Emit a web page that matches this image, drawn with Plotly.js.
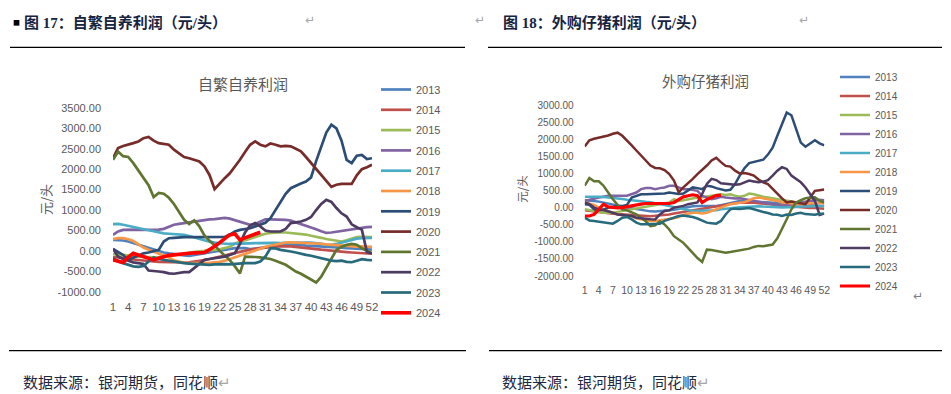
<!DOCTYPE html>
<html><head><meta charset="utf-8">
<script src="https://cdn.plot.ly/plotly-3.0.1.min.js"></script>
<style>html,body{margin:0;padding:0;background:#fff;}#chart{width:951px;height:394px;}</style>
</head><body><div id="chart"></div>
<script>
const years = ['2013','2014','2015','2016','2017','2018','2019','2020','2021','2022','2023','2024'];
const colors = ['#4F81BD','#C0504D','#9BBB59','#8064A2','#4BACC6','#F79646','#2C4D75','#772C2A','#5F7530','#4D3B62','#276A7C','#FF0000'];
const weeks = [1,2,3,4,5,6,7,8,9,10,11,12,13,14,15,16,17,18,19,20,21,22,23,24,25,26,27,28,29,30,31,32,33,34,35,36,37,38,39,40,41,42,43,44,45,46,47,48,49,50,51,52];
const xTickVals = [1,4,7,10,13,16,19,22,25,28,31,34,37,40,43,46,49,52];
const leftYTicks = [-1000,-500,0,500,1000,1500,2000,2500,3000,3500];
const rightYTicks = [-2000,-1500,-1000,-500,0,500,1000,1500,2000,2500,3000];

// 自繁自养利润
const L2013 = [270,270,255,230,190,150,105,65,25,0,-40,-60,-80,-100,-110,-120,-100,-75,-60,-40,-15,5,25,45,65,65,65,45,55,65,80,105,120,130,140,145,150,145,130,125,120,115,105,95,90,80,65,60,65,50,40,30];
const L2014 = [-150,-160,-170,-200,-215,-230,-240,-250,-260,-270,-275,-280,-285,-290,-285,-280,-265,-250,-225,-200,-175,-150,-115,-80,-50,-20,5,30,50,70,85,100,110,120,115,110,100,90,75,60,45,30,15,0,-10,-20,-30,-40,-45,-50,-60,-70];
const L2015 = [-80,-85,-100,-115,-140,-140,-150,-155,-160,-150,-140,-120,-100,-90,-80,-40,-20,-10,0,10,20,40,70,100,180,220,260,300,350,390,420,440,450,455,450,440,420,415,400,370,350,320,290,270,240,230,260,300,340,345,340,340];
const L2016 = [390,475,515,520,525,520,515,515,515,520,540,600,640,660,680,700,727,740,760,770,780,795,810,790,750,720,680,640,660,720,775,770,770,770,760,740,700,660,620,570,530,480,440,450,470,490,510,530,550,570,580,590];
const L2017 = [655,660,640,610,580,555,530,505,480,450,430,420,415,410,390,365,330,290,250,225,205,185,175,170,170,175,180,185,190,195,200,200,195,190,195,200,205,205,205,200,190,170,150,150,170,200,240,270,300,310,320,320];
const L2018 = [285,310,310,285,240,160,80,30,-15,-60,-100,-160,-230,-260,-290,-300,-305,-300,-300,-295,-285,-270,-240,-200,-160,-110,-70,-45,10,50,100,130,160,190,205,210,205,200,195,195,185,175,160,150,140,130,115,105,105,110,105,100];
const L2019 = [50,-30,-100,-220,-160,-100,-60,-40,0,25,228,310,320,335,335,335,335,335,335,335,335,335,340,400,473,515,530,555,600,650,690,800,1000,1200,1400,1535,1600,1650,1700,1800,2200,2550,2900,3090,3000,2700,2230,2150,2330,2350,2250,2270];
const L2020 = [2270,2520,2570,2600,2640,2680,2760,2790,2700,2640,2620,2600,2480,2390,2300,2270,2230,2190,2070,1860,1510,1650,1780,1900,2060,2230,2420,2600,2680,2600,2560,2630,2600,2560,2570,2560,2500,2440,2300,2150,2000,1850,1720,1570,1620,1640,1640,1640,1850,2000,2050,2110];
const L2021 = [2230,2430,2320,2300,2150,1960,1780,1610,1320,1420,1400,1300,1150,950,760,660,750,600,380,250,140,0,-120,-225,-380,-550,-140,-140,-150,-160,-180,-200,-240,-290,-340,-420,-505,-560,-630,-700,-775,-630,-420,-220,25,100,147,170,150,65,0,-57];
const L2022 = [50,-140,-200,-240,-280,-300,-320,-480,-500,-505,-520,-550,-560,-540,-520,-520,-420,-300,-220,-200,-180,-155,-140,-100,-57,173,450,620,680,600,500,475,470,475,540,680,700,720,760,830,1000,1150,1250,1200,1050,920,840,650,580,520,-30,-60];
const L2023 = [-180,-260,-300,-340,-380,-390,-370,-260,-160,-200,-220,-250,-270,-290,-300,-310,-320,-320,-330,-343,-330,-320,-325,-330,-320,-300,-300,-300,-300,-260,-140,65,60,25,10,-16,-40,-60,-98,-120,-150,-180,-200,-237,-250,-240,-270,-278,-240,-204,-220,-230];
const L2024 = [-220,-260,-285,-150,-57,-100,-140,-180,-220,-180,-140,-110,-98,-80,-65,-57,-50,-45,-40,30,106,200,300,392,420,270,320,370,420,457];

// 外购仔猪利润
const R2013 = [215,215,195,175,150,115,80,60,30,0,-20,-50,-80,-100,-110,-115,-110,-100,-80,-60,-30,0,20,40,45,45,40,40,45,70,100,140,170,195,195,185,180,175,170,160,150,140,130,120,110,100,90,80,70,60,55,50];
const R2014 = [-80,-100,-120,-135,-150,-165,-180,-190,-200,-210,-220,-230,-240,-245,-250,-240,-230,-215,-200,-175,-150,-125,-100,-75,-50,-25,0,25,50,75,100,115,130,140,150,145,140,130,120,105,90,75,60,45,30,20,10,0,-10,-15,-20,-30];
const R2015 = [-50,-75,-100,-125,-150,-150,-150,-125,-100,-80,-50,-30,0,20,40,80,100,120,150,245,195,215,245,265,295,300,315,345,370,390,370,390,345,315,345,410,390,345,315,295,275,245,215,200,180,150,150,175,195,215,235,215];
const R2016 = [195,230,275,295,320,345,345,335,345,345,390,440,540,570,570,540,570,590,640,640,590,540,540,510,490,345,295,245,270,315,295,275,265,275,245,215,195,175,150,125,100,75,50,75,100,120,150,175,195,215,215,215];
const R2017 = [315,320,330,320,310,300,290,270,250,230,210,190,170,170,160,130,100,60,30,0,-30,-60,-80,-100,-95,-90,-95,-90,-80,-50,-30,-10,0,10,20,30,50,40,30,30,20,10,0,0,10,20,30,40,40,40,45,45];
const R2018 = [150,120,80,0,-50,-100,-150,-200,-220,-245,-260,-315,-345,-375,-390,-390,-375,-360,-345,-310,-275,-215,-180,-150,-150,-175,-150,-100,-50,0,50,100,120,150,160,215,275,295,275,250,220,195,150,130,110,110,100,110,120,140,140,120];
const R2019 = [100,80,-50,-80,-60,0,20,50,50,80,295,345,390,390,395,400,400,410,440,420,400,410,490,590,570,540,640,620,570,540,500,520,690,935,1150,1300,1330,1350,1400,1550,1750,2100,2450,2780,2700,2300,1900,1780,1870,1970,1880,1820];
const R2020 = [1790,1970,2015,2040,2065,2110,2160,2190,2100,1970,1820,1670,1520,1380,1230,1160,1150,1100,980,790,450,590,710,840,980,1100,1230,1380,1455,1330,1220,1200,1080,1000,1010,980,935,820,740,690,540,400,270,150,175,150,120,100,295,490,510,530];
const R2021 = [640,865,770,770,640,440,245,80,-50,-80,-150,-200,-295,-400,-540,-520,-400,-490,-640,-835,-935,-1030,-1180,-1330,-1475,-1590,-1230,-1240,-1260,-1300,-1320,-1300,-1280,-1260,-1240,-1200,-1150,-1120,-1130,-1100,-1080,-900,-640,-340,-50,150,215,275,295,300,195,150];
const R2022 = [150,100,0,-50,-70,-100,-150,-200,-220,-230,-245,-295,-315,-330,-340,-345,-200,-100,-80,0,20,50,100,120,150,400,690,840,805,710,690,670,670,680,740,790,765,740,760,805,935,1080,1180,1130,935,840,740,590,390,195,-215,-175];
const R2023 = [-295,-375,-390,-410,-440,-455,-470,-390,-295,-275,-345,-440,-490,-490,-490,-490,-470,-390,-345,-295,-245,-230,-245,-275,-320,-375,-440,-455,-470,-390,-200,-50,-30,-40,-20,-10,-50,-100,-130,-160,-200,-210,-245,-200,-215,-175,-150,-190,-210,-210,-180,-180];
const R2024 = [-245,-245,-200,-50,100,20,0,-10,0,30,50,80,100,120,120,100,100,120,120,150,245,315,345,375,350,150,240,300,350,365];

const leftSeries = [L2013,L2014,L2015,L2016,L2017,L2018,L2019,L2020,L2021,L2022,L2023,L2024];
const rightSeries = [R2013,R2014,R2015,R2016,R2017,R2018,R2019,R2020,R2021,R2022,R2023,R2024];

const W = 951, H = 394;
const px = v => v / W;
const py = v => 1 - v / H;
const GRAY = '#595959';
const SANS = 'Liberation Sans, Noto Sans CJK SC, sans-serif';
const CJK = 'Noto Sans CJK SC, sans-serif';
const HEAD = 'Liberation Serif, Noto Sans CJK SC, serif';

const traces = [];
leftSeries.forEach((s, i) => {
  traces.push({
    type: 'scatter', mode: 'lines', name: years[i],
    x: weeks.slice(0, s.length), y: s, xaxis: 'x', yaxis: 'y',
    legend: 'legend', legendgroup: 'L' + years[i],
    line: {color: colors[i], width: i === 11 ? 3.6 : 2.7},
    hoverinfo: 'skip'
  });
});
rightSeries.forEach((s, i) => {
  traces.push({
    type: 'scatter', mode: 'lines', name: years[i],
    x: weeks.slice(0, s.length), y: s, xaxis: 'x2', yaxis: 'y2',
    legend: 'legend2', legendgroup: 'R' + years[i],
    line: {color: colors[i], width: i === 11 ? 3.2 : 2.5},
    hoverinfo: 'skip'
  });
});

const axBase = {showgrid: false, zeroline: false, showline: false, ticks: '', fixedrange: true};

const layout = {
  width: W, height: H,
  margin: {l: 0, r: 0, t: 0, b: 0},
  paper_bgcolor: '#fff', plot_bgcolor: 'rgba(0,0,0,0)',
  showlegend: true,
  xaxis: Object.assign({}, axBase, {
    domain: [px(113), px(372)], range: [1, 52], anchor: 'y',
    tickmode: 'array', tickvals: xTickVals, ticktext: xTickVals.map(String),
    tickfont: {family: SANS, size: 11.5, color: GRAY}, ticklabelstandoff: 7
  }),
  yaxis: Object.assign({}, axBase, {
    domain: [py(291.7), py(108)], range: [-1000, 3500], anchor: 'x',
    tickmode: 'array', tickvals: leftYTicks, ticktext: leftYTicks.map(v => v.toFixed(2)),
    tickfont: {family: SANS, size: 11, color: GRAY}, ticklabelstandoff: 11
  }),
  xaxis2: Object.assign({}, axBase, {
    domain: [px(584.7), px(824.3)], range: [1, 52], anchor: 'y2',
    tickmode: 'array', tickvals: xTickVals, ticktext: xTickVals.map(String),
    tickfont: {family: SANS, size: 10.5, color: GRAY}, ticklabelstandoff: 6
  }),
  yaxis2: Object.assign({}, axBase, {
    domain: [py(276), py(105)], range: [-2000, 3000], anchor: 'x2',
    tickmode: 'array', tickvals: rightYTicks, ticktext: rightYTicks.map(v => v.toFixed(2)),
    tickfont: {family: SANS, size: 10, color: GRAY}, ticklabelstandoff: 10
  }),
  legend: {
    x: px(376), y: py(75), xanchor: 'left', yanchor: 'top',
    font: {family: SANS, size: 11, color: GRAY}, tracegroupgap: 1.3,
    itemwidth: 30, bgcolor: 'rgba(0,0,0,0)', borderwidth: 0, itemclick: false, itemdoubleclick: false
  },
  legend2: {
    x: px(835), y: py(62.5), xanchor: 'left', yanchor: 'top',
    font: {family: SANS, size: 10, color: GRAY}, tracegroupgap: 0,
    itemwidth: 30, bgcolor: 'rgba(0,0,0,0)', borderwidth: 0, itemclick: false, itemdoubleclick: false
  },
  shapes: [
    {type: 'line', xref: 'paper', yref: 'paper', x0: px(10), x1: px(465), y0: py(47.3), y1: py(47.3), line: {color: '#000', width: 1.3}},
    {type: 'line', xref: 'paper', yref: 'paper', x0: px(488), x1: px(942), y0: py(47.3), y1: py(47.3), line: {color: '#000', width: 1.3}},
    {type: 'line', xref: 'paper', yref: 'paper', x0: px(9), x1: px(466), y0: py(350.7), y1: py(350.7), line: {color: '#000', width: 1.3}},
    {type: 'line', xref: 'paper', yref: 'paper', x0: px(489), x1: px(942), y0: py(350.7), y1: py(350.7), line: {color: '#000', width: 1.3}}
  ],
  annotations: [
    {text: '■', x: px(10.5), y: py(22), xanchor: 'left', yanchor: 'middle', font: {family: CJK, size: 7, color: '#000'}},
    {text: '<b>图 17：自繁自养利润（元/头）</b>', x: px(22), y: py(22.5), xanchor: 'left', yanchor: 'middle', font: {family: HEAD, size: 15, color: '#17243f'}},
    {text: '↵', x: px(310), y: py(20), xanchor: 'center', yanchor: 'middle', font: {family: 'DejaVu Sans', size: 12, color: '#a6a6a6'}},
    {text: '↵', x: px(480), y: py(20), xanchor: 'center', yanchor: 'middle', font: {family: 'DejaVu Sans', size: 12, color: '#a6a6a6'}},
    {text: '<b>图 18：外购仔猪利润（元/头）</b>', x: px(501), y: py(22.5), xanchor: 'left', yanchor: 'middle', font: {family: HEAD, size: 15, color: '#17243f'}},
    {text: '↵', x: px(804), y: py(20), xanchor: 'center', yanchor: 'middle', font: {family: 'DejaVu Sans', size: 12, color: '#a6a6a6'}},
    {text: '自繁自养利润', x: px(243), y: py(83), xanchor: 'center', yanchor: 'middle', font: {family: CJK, size: 15, color: GRAY}},
    {text: '外购仔猪利润', x: px(705), y: py(80.7), xanchor: 'center', yanchor: 'middle', font: {family: CJK, size: 14.5, color: GRAY}},
    {text: '元/头', x: px(45), y: py(200), textangle: -90, xanchor: 'center', yanchor: 'middle', font: {family: CJK, size: 13, color: GRAY}},
    {text: '元/头', x: px(521.7), y: py(189), textangle: -90, xanchor: 'center', yanchor: 'middle', font: {family: CJK, size: 11.5, color: GRAY}},
    {text: '↵', x: px(918), y: py(296), xanchor: 'center', yanchor: 'middle', font: {family: 'DejaVu Sans', size: 12, color: '#808080'}},
    {text: '数据来源：银河期货，同花顺<span style="color:#a6a6a6">↵</span>', x: px(21), y: py(381), xanchor: 'left', yanchor: 'middle', font: {family: CJK, size: 15, color: '#1c2740'}},
    {text: '数据来源：银河期货，同花顺<span style="color:#a6a6a6">↵</span>', x: px(500), y: py(381), xanchor: 'left', yanchor: 'middle', font: {family: CJK, size: 15, color: '#1c2740'}}
  ].map(a => Object.assign({xref: 'paper', yref: 'paper', showarrow: false}, a))
};

Plotly.newPlot('chart', traces, layout, {staticPlot: true, displayModeBar: false});
</script>
</body></html>
